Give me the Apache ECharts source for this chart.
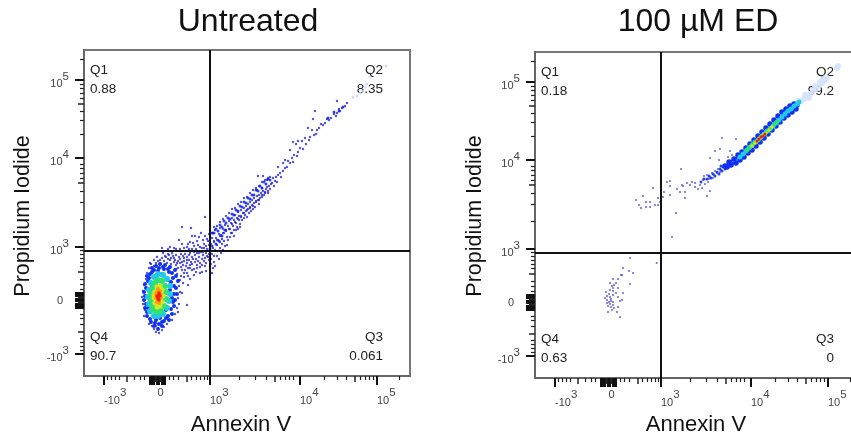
<!DOCTYPE html>
<html>
<head>
<meta charset="utf-8">
<title>Annexin V / PI</title>
<style>
html, body { margin: 0; padding: 0; background: #fff; overflow: hidden; }
/* the right plot runs off the page, so the chart is wider than the window */
#chart { width: 870px; height: 440px; filter: blur(0.4px); }
</style>
<script src="https://cdn.jsdelivr.net/npm/echarts@6/dist/echarts.min.js"></script>
</head>
<body>
<div id="chart"></div>
<script>
// all values are display channels of the biexponential axes, 0 - 326
let titles = ['Untreated', '100 µM ED'];
let xName = 'Annexin V';
let yName = 'Propidium Iodide';

// quadrant names and percentages
let quadNames = ['Q1', 'Q2', 'Q4', 'Q3'];
let untreatedPct = ['0.88', '8.35', '90.7', '0.061'];
let treatedPct = ['0.18', '99.2', '0.63', '0'];

// gates
let gateX = 126;
let gateY = 125;

// ticks
let tickLabels = ['-10^3', '0', '10^3', '10^4', '10^5'];
let xLabelAt = [20, 73.5, 126, 216, 293];
let yLabelAt = [22, 75.5, 129, 218, 296];
let xMajor = [20, 66, 67, 68, 69, 70, 73, 74, 75, 78, 79, 80, 81, 126, 216, 293];
let yMajor = [22, 68, 69, 70, 71, 72, 75, 76, 77, 80, 81, 82, 83, 129, 218, 296];
let xMedium = [42.7, 71, 72, 76, 77, 102.7, 191, 270.3];
let yMedium = [44.7, 73, 74, 78, 79, 104.7, 193, 272.3];
let xMinor = [23.3, 27.3, 31.3, 35.3, 50, 56, 60, 85, 89.3, 94.3, 107.7, 112, 116, 120, 123.3, 155, 171.7, 182.7,
    196, 201, 205.3, 209.3, 240, 253.3, 262.7, 276, 281, 285.3, 289.3, 315];
let yMinor = [25.3, 29.3, 33.3, 37.3, 52, 58, 62, 87, 91.3, 96.3, 109.7, 114, 118, 122, 125.3, 157, 173.7, 184.7,
    198, 203, 207.3, 211.3, 242, 255.3, 264.7, 278, 283, 287.3, 291.3, 317];

// Untreated, density bands of the live cell cloud
let untreatedBlue = [[62, 72], [61, 80], [62, 88], [64, 95], [66, 102], [70, 106], [75, 108], [80, 107], [85, 104], [89, 98],
    [90, 90], [90, 82], [89, 74], [87, 67], [84, 60], [80, 55], [75, 52], [71, 53], [66, 57], [63, 64],
    [66, 70], [66, 80], [68, 90], [72, 100], [78, 102], [84, 96], [86, 86], [85, 76], [82, 66], [76, 58], [70, 60], [66, 64],
    [92, 100], [94, 95], [92, 88], [93, 82], [91, 76], [90, 70], [88, 62], [85, 56], [74, 47], [78, 50], [70, 50], [67, 54],
    [60, 76], [60, 84], [61, 92], [63, 100], [61, 68], [63, 60], [68, 108], [72, 110], [76, 112], [81, 111], [86, 109], [91, 106],
    [65, 98], [68, 104], [74, 105], [79, 109], [84, 107], [88, 103], [87, 94], [88, 78], [72, 56], [78, 54], [82, 58], [64, 68]];
let untreatedCyan = [[65, 72], [64, 79], [65, 86], [67, 93], [70, 99], [74, 102], [79, 101], [83, 97], [86, 90], [86, 82],
    [85, 75], [83, 68], [79, 62], [74, 60], [70, 60], [66, 65]];
let untreatedGreen = [[68, 70], [67, 76], [67, 82], [69, 88], [71, 93], [74, 96], [78, 95], [81, 90], [82, 84], [82, 77],
    [80, 70], [77, 65], [73, 64], [69, 66]];
let untreatedYellow = [[71, 73], [70, 78], [71, 84], [73, 89], [76, 90], [78, 86], [79, 80], [78, 74], [76, 70], [73, 69], [70, 81]];
let untreatedOrange = [[72, 78], [73, 84], [76, 85], [77, 78], [75, 73], [73, 74], [77, 82], [74, 87], [72, 82]];
let untreatedRed = [[74, 79], [75, 81], [74, 77], [75, 76], [76, 80], [75, 83], [73, 80]];

// Untreated, single events round the cloud, up to the gates and along the diagonal
let untreatedDots = [[72, 44], [75, 43], [78, 46], [70, 47], [74, 48], [68, 50], [80, 49], [77, 51], [65, 52], [83, 52], [72, 50],
    [60, 60], [61, 66], [59, 72], [58, 79], [59, 85], [60, 91], [62, 97], [63, 103], [65, 108], [67, 112],
    [88, 56], [91, 62], [93, 68], [95, 72], [94, 78], [96, 84], [95, 90], [94, 96], [93, 102], [92, 107], [98, 83], [103, 71], [94, 64], [104, 91],
    [66, 113], [70, 116], [73, 119], [76, 116], [79, 123], [82, 119], [86, 116], [84, 122], [89, 120], [91, 116], [93, 113], [95, 119],
    [97, 122], [98, 114], [100, 118], [103, 116], [102, 110], [105, 121], [107, 114], [108, 119], [110, 124], [112, 117], [113, 123],
    [115, 119], [116, 109], [117, 124], [119, 121], [120, 115], [122, 123], [124, 119], [103, 103], [108, 106], [98, 106], [113, 111],
    [106, 108], [121, 110], [118, 104], [110, 101], [100, 99], [78, 128], [86, 129], [92, 127], [95, 136], [98, 132], [98, 149],
    [103, 129], [106, 134], [107, 148], [109, 133], [111, 140], [114, 131], [117, 143], [118, 128], [119, 136], [121, 159], [122, 130],
    [124, 135], [125, 142], [123, 127], [120, 128], [112, 127], [108, 127], [128, 122], [127, 117], [130, 120], [129, 128], [131, 126],
    [70, 110], [72, 113], [74, 115], [77, 112], [78, 118], [80, 115], [81, 120], [83, 113], [84, 117], [85, 121], [87, 112], [87, 118],
    [88, 123], [90, 114], [90, 118], [92, 111], [92, 121], [94, 115], [94, 108], [96, 113], [96, 117], [97, 109], [99, 111], [99, 120],
    [100, 115], [101, 106], [101, 122], [103, 113], [103, 119], [104, 108], [105, 116], [106, 111], [106, 123], [108, 112], [109, 117],
    [110, 107], [111, 114], [111, 121], [113, 108], [114, 115], [115, 123], [116, 113], [118, 117], [118, 111], [119, 124], [121, 118],
    [122, 113], [123, 120], [125, 122], [125, 116], [100, 103], [97, 100], [104, 100], [96, 96], [99, 93], [106, 97], [112, 104], [116, 103],
    [122, 105], [126, 110], [100, 128], [104, 132], [110, 130], [113, 135], [116, 129], [120, 132], [121, 140], [123, 137], [125, 131],
    [115, 139], [108, 140], [105, 127], [96, 127], [90, 128], [84, 127],
    [127, 132], [128, 138], [130, 134], [133, 131], [132, 138], [129, 143], [134, 136], [136, 134], [135, 142], [131, 146], [137, 141],
    [138, 137], [139, 147], [136, 148], [140, 143], [141, 151], [142, 145], [143, 139], [144, 150], [145, 155], [146, 147], [147, 143],
    [147, 153], [148, 158], [149, 150], [150, 146], [150, 156], [151, 161], [152, 153], [153, 149], [153, 158], [154, 164], [155, 156],
    [155, 160], [156, 152], [157, 166], [157, 160], [158, 156], [159, 163], [160, 168], [160, 158], [161, 161], [162, 170], [162, 165],
    [163, 159], [164, 167], [164, 172], [165, 163], [166, 169], [166, 174], [167, 165], [168, 171], [168, 176], [169, 167], [170, 173],
    [170, 178], [171, 169], [172, 175], [173, 180], [173, 186], [174, 176], [174, 200], [175, 172], [175, 181], [176, 178], [177, 183],
    [178, 188], [178, 179], [179, 200], [179, 185], [180, 181], [181, 184], [182, 187], [183, 189], [183, 196], [184, 183], [185, 190],
    [186, 199], [186, 187], [187, 192], [188, 193], [189, 198], [190, 190], [191, 195], [192, 199], [193, 194], [194, 201], [194, 209],
    [196, 203], [197, 199], [199, 213], [199, 205], [201, 208], [201, 216], [203, 209], [204, 215], [206, 226], [206, 213], [208, 218],
    [209, 214], [209, 234], [210, 221], [212, 232], [213, 220], [214, 224], [214, 235], [216, 228], [218, 235], [219, 227], [221, 238],
    [222, 232], [224, 248], [225, 236], [226, 239], [228, 246], [229, 257], [230, 241], [231, 265], [232, 242], [233, 246], [235, 248],
    [237, 252], [239, 251], [241, 253], [243, 257], [245, 256], [247, 258], [250, 262], [252, 260], [253, 263], [253, 275], [255, 267],
    [256, 265], [258, 268], [261, 270], [263, 273],
    [127, 112], [129, 108], [128, 103], [130, 114], [131, 110], [133, 120], [134, 125], [135, 117], [136, 128], [137, 123], [138, 132],
    [139, 126], [140, 135], [141, 130], [143, 131], [144, 136], [146, 139], [148, 143], [150, 140], [152, 146], [154, 147], [156, 149],
    [130, 149], [133, 150], [136, 154], [139, 157], [142, 160], [145, 163], [148, 167], [151, 168], [154, 172], [157, 174], [160, 178],
    [163, 179], [166, 183], [169, 186], [172, 188], [175, 190], [178, 194], [181, 196], [184, 198],
    [130, 135], [133, 136], [136, 140], [139, 143], [142, 146], [145, 147], [148, 152], [151, 154], [154, 157], [157, 159], [160, 163],
    [163, 166], [166, 168], [169, 170], [172, 174], [175, 176], [178, 181], [181, 183], [184, 185]];
let untreatedDark = [[128, 143], [130, 143], [132, 147], [134, 145], [136, 151], [138, 149], [140, 155], [142, 153], [144, 158], [146, 157],
    [148, 162], [150, 161], [152, 166], [154, 165], [156, 170], [158, 169], [160, 174], [162, 173], [164, 178], [166, 177], [168, 181],
    [170, 181], [172, 186], [174, 185], [176, 190], [178, 188], [180, 194], [182, 192], [184, 197], [186, 196],
    [126, 127], [128, 130], [132, 132], [135, 135], [138, 140], [141, 146], [244, 258], [250, 264], [255, 265], [259, 269]];
let untreatedTail = [[269, 279], [273, 280], [276, 283], [279, 285], [281, 289], [283, 292], [286, 299], [302, 310]];

// 100 uM ED, density bands of the ridge
let treatedBlue = [[190, 212], [192, 211], [194, 216], [196, 213], [199, 219], [201, 215], [203, 223], [205, 218],
    [207, 226], [209, 221], [211, 230], [213, 225], [215, 234], [217, 228], [219, 238], [221, 232], [223, 242], [225, 236], [227, 246],
    [229, 240], [231, 250], [233, 244], [235, 254], [237, 248], [239, 258], [241, 252], [243, 262], [245, 256], [247, 266], [249, 260],
    [251, 269], [253, 263], [255, 272], [257, 266], [259, 274], [261, 269], [262, 273]];
let treatedCyan = [[205, 221], [208, 224], [211, 227], [214, 230], [217, 233], [220, 236], [223, 238], [226, 241], [229, 244], [232, 247],
    [235, 249], [238, 252], [241, 255], [244, 258], [247, 261], [250, 264], [253, 267], [256, 269], [259, 272], [262, 274], [264, 276]];
let treatedGreen = [[212, 228], [215, 231], [218, 234], [221, 236], [224, 239], [227, 242], [230, 244], [233, 247], [236, 250], [239, 253], [242, 256]];
let treatedYellow = [[217, 232], [220, 235], [222, 237], [225, 240], [228, 243], [231, 245], [234, 248], [237, 251]];
let treatedRed = [[222, 237], [224, 239], [226, 241], [228, 242], [230, 244]];
let treatedDark = [[166, 196], [169, 199], [172, 199], [174, 202], [176, 200], [178, 204], [180, 202], [182, 206], [184, 204], [185, 209],
    [187, 207], [188, 211], [190, 209], [192, 213], [194, 212], [196, 217], [198, 215], [201, 220], [186, 212]];

// 100 uM ED, single events
let treatedDots = [[187, 240], [201, 239], [180, 227], [185, 229], [195, 227], [175, 220], [184, 218], [146, 209], [147, 193], [142, 189],
    [135, 197], [135, 192], [132, 196], [148, 192], [145, 186], [150, 186], [150, 180], [175, 187], [172, 182], [141, 165], [137, 141],
    [118, 190], [129, 186], [135, 183], [128, 181], [123, 180], [125, 176], [123, 173], [120, 173], [115, 176], [115, 171], [111, 171],
    [111, 176], [108, 182], [152, 195], [157, 196], [160, 195], [160, 191], [165, 193], [168, 198], [172, 203], [175, 201], [173, 196],
    [177, 205], [182, 205], [185, 206], [163, 189], [167, 190], [170, 194], [155, 193], [169, 202], [174, 199], [178, 200], [179, 203],
    [183, 209], [180, 207], [186, 208], [190, 209], [193, 221], [197, 223], [121.7, 115], [104, 173], [101, 178], [106, 170],
    [95, 120], [88, 110], [94, 107], [98, 105], [87, 103], [83, 99], [78, 99], [95, 94], [75, 95], [81, 95], [83, 90], [78, 90], [78, 87],
    [75, 88], [81, 85], [71, 86], [88, 85], [72, 82], [75, 81], [78, 83], [83, 81], [72, 78], [76, 79], [87, 78], [85, 77], [78, 76],
    [72, 75], [75, 74], [78, 73], [73, 72], [76, 71], [79, 70], [83, 71], [73, 66], [82, 66], [85, 61], [76, 77], [74, 84], [77, 92],
    [79, 93], [86, 103], [70, 80], [74, 76], [77, 68]];
let treatedTail = [[263, 277], [266, 277], [269, 279], [272, 282], [275, 284], [278, 287], [270, 283], [281, 289], [284, 292], [274, 280], [287, 295],
    [290, 298], [292, 300], [280, 292], [285, 296], [302, 310], [303, 312], [288, 299]];

let myChart = echarts.init(document.getElementById('chart'));

// 10^3 -> rich text with a raised exponent
function tickText(v) {
    let i = xLabelAt.indexOf(v);
    if (i < 0) i = yLabelAt.indexOf(v);
    let t = tickLabels[i];
    if (t == '0') return '{z|0}';
    let p = t.split('^');
    return '{b|' + p[0] + '}{s|' + p[1] + '}';
}

let labelRich = {
    b: { fontSize: 11, color: '#444', fontFamily: 'Liberation Sans', verticalAlign: 'bottom', padding: [0, 0, 0, 0] },
    s: { fontSize: 11.5, color: '#444', fontFamily: 'Liberation Sans', verticalAlign: 'bottom', padding: [0, 0, 7, 0] },
    z: { fontSize: 11, color: '#444', fontFamily: 'Liberation Sans', verticalAlign: 'bottom', padding: [0, 6, 0, 0] }
};

// one grid needs 3 axes per direction, because tick length is set per axis
function makeAxes(gridIndex, isX) {
    let majors = isX ? xMajor : yMajor;
    let mediums = isX ? xMedium : yMedium;
    let minors = isX ? xMinor : yMinor;
    let labelAt = isX ? xLabelAt : yLabelAt;
    let base = { type: 'value', gridIndex: gridIndex, min: 0, max: 326, silent: true, splitLine: { show: false },
        position: isX ? 'bottom' : 'left' };
    return [
        Object.assign({}, base, {
            axisLine: { show: true, onZero: false, lineStyle: { color: '#666', width: 2 } },
            axisTick: { show: true, customValues: majors, length: 9, lineStyle: { color: '#111', width: 2 } },
            axisLabel: {
                show: true, customValues: labelAt, formatter: tickText, rich: labelRich,
                margin: isX ? 11 : 15, align: isX ? 'left' : 'right', hideOverlap: false, showMinLabel: true, showMaxLabel: true
            }
        }),
        Object.assign({}, base, {
            axisLine: { show: false, onZero: false },
            axisTick: { show: true, customValues: mediums, length: 6, lineStyle: { color: '#222', width: 1.5 } },
            axisLabel: { show: false }
        }),
        Object.assign({}, base, {
            axisLine: { show: false, onZero: false },
            axisTick: { show: true, customValues: minors, length: 4, lineStyle: { color: '#222', width: 1.2 } },
            axisLabel: { show: false }
        })
    ];
}

function dots(plot, data, color, size, alpha) {
    return {
        type: 'scatter', xAxisIndex: plot * 3, yAxisIndex: plot * 3, data: data, symbolSize: size, silent: true,
        itemStyle: { color: color, opacity: alpha }
    };
}

function gateLine(plot, data) {
    return {
        type: 'line', xAxisIndex: plot * 3, yAxisIndex: plot * 3, data: data, symbol: 'none', silent: true, z: 5,
        lineStyle: { color: '#111', width: 2 }
    };
}

function quadText(left, top, pct) {
    let out = [];
    let places = [[left + 6, top + 20, 'left'], [left + 299, top + 20, 'right'], [left + 6, top + 287, 'left'], [left + 299, top + 287, 'right']];
    places.forEach((p, i) => {
        out.push({ type: 'text', x: p[0], y: p[1], style: { text: quadNames[i], fill: '#222', font: '13.5px "Liberation Sans"', textAlign: p[2], textVerticalAlign: 'middle' } });
        out.push({ type: 'text', x: p[0], y: p[1] + 19, style: { text: pct[i], fill: '#222', font: '13.5px "Liberation Sans"', textAlign: p[2], textVerticalAlign: 'middle' } });
    });
    return out;
}

function bigText(text, x, y, size, rotate) {
    return { type: 'text', x: x, y: y, rotation: rotate || 0,
        style: { text: text, fill: '#111', font: size + 'px "Liberation Sans"', textAlign: 'center', textVerticalAlign: 'middle' } };
}

let gridBox = { show: true, borderColor: '#777', borderWidth: 2, backgroundColor: '#fff', width: 326, height: 326 };

myChart.setOption({
    animation: false,
    backgroundColor: '#fff',
    grid: [
        Object.assign({}, gridBox, { left: 84, top: 50 }),
        Object.assign({}, gridBox, { left: 535, top: 52 })
    ],
    xAxis: makeAxes(0, true).concat(makeAxes(1, true)),
    yAxis: makeAxes(0, false).concat(makeAxes(1, false)),
    series: [
        dots(0, untreatedTail, '#c8d2f4', 3, 0.8),
        dots(0, untreatedDots, '#1a1ad0', 2.4, 0.75),
        dots(0, untreatedDark, '#0a20f0', 3, 0.85),
        dots(0, untreatedBlue, '#1030f0', 4, 1),
        dots(0, untreatedCyan, '#20c8ea', 6, 1),
        dots(0, untreatedGreen, '#30e070', 6, 1),
        dots(0, untreatedYellow, '#cfe820', 5, 1),
        dots(0, untreatedOrange, '#ff9a10', 4, 1),
        dots(0, untreatedRed, '#f02010', 3.5, 1),
        gateLine(0, [[gateX, 0], [gateX, 326]]),
        gateLine(0, [[0, gateY], [326, gateY]]),
        dots(1, treatedTail, '#d6e2fa', 6, 0.9),
        dots(1, treatedDots, '#2020d0', 2.2, 0.65),
        dots(1, treatedDark, '#1030e0', 3, 0.9),
        dots(1, treatedBlue, '#1030f0', 5.5, 1),
        dots(1, treatedCyan, '#20c8ea', 5, 1),
        dots(1, treatedGreen, '#30e070', 4.5, 1),
        dots(1, treatedYellow, '#cfe820', 3.5, 1),
        dots(1, treatedRed, '#f02010', 3, 1),
        gateLine(1, [[gateX, 0], [gateX, 326]]),
        gateLine(1, [[0, gateY], [326, gateY]])
    ],
    graphic: [
        bigText(titles[0], 248, 22, 32),
        bigText(titles[1], 698, 22, 32),
        bigText(xName, 241, 425, 22),
        bigText(xName, 696, 425, 22),
        bigText(yName, 23, 216, 21.5, Math.PI / 2),
        bigText(yName, 475, 216, 21.5, Math.PI / 2)
    ].concat(quadText(84, 50, untreatedPct), quadText(535, 52, treatedPct))
});
</script>
</body>
</html>
